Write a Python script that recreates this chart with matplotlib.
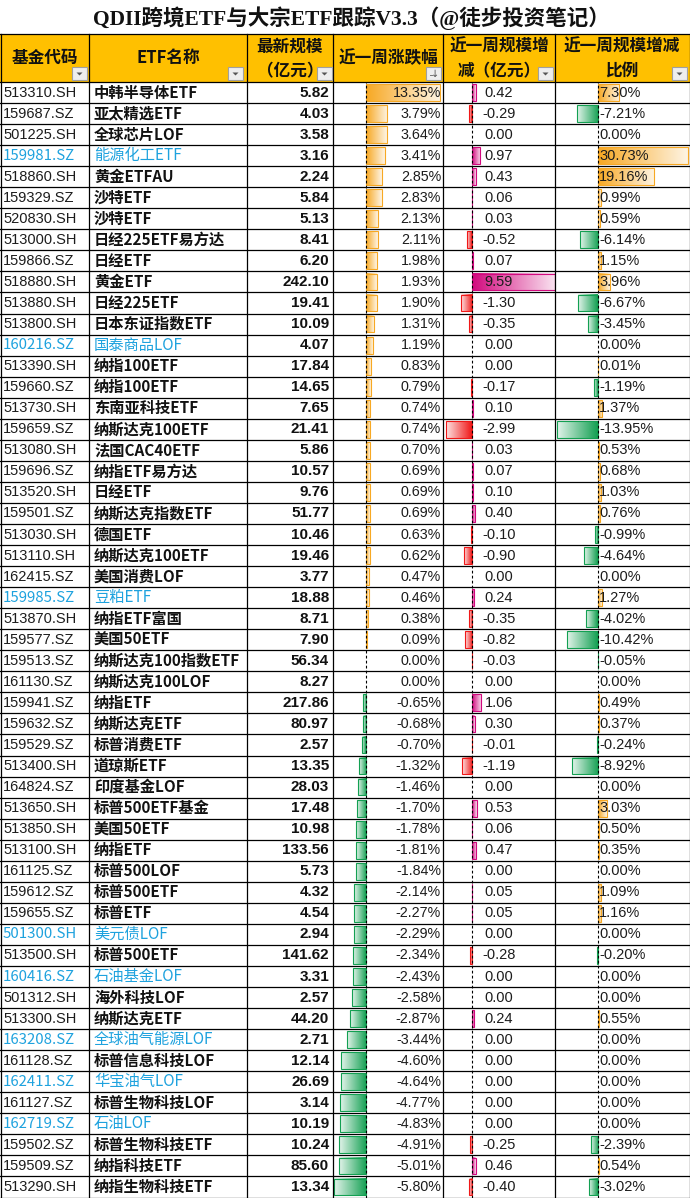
import numpy as np
import matplotlib
matplotlib.use('Agg')
import matplotlib.pyplot as plt
from matplotlib.patches import Rectangle, Polygon
from matplotlib.colors import to_rgb

# ---------------- data ----------------
codes = ["513310.SH", "159687.SZ", "501225.SH", "159981.SZ", "518860.SH", "159329.SZ",
         "520830.SH", "513000.SH", "159866.SZ", "518880.SH", "513880.SH", "513800.SH",
         "160216.SZ", "513390.SH", "159660.SZ", "513730.SH", "159659.SZ", "513080.SH",
         "159696.SZ", "513520.SH", "159501.SZ", "513030.SH", "513110.SH", "162415.SZ",
         "159985.SZ", "513870.SH", "159577.SZ", "159513.SZ", "161130.SZ", "159941.SZ",
         "159632.SZ", "159529.SZ", "513400.SH", "164824.SZ", "513650.SH", "513850.SH",
         "513100.SH", "161125.SZ", "159612.SZ", "159655.SZ", "501300.SH", "513500.SH",
         "160416.SZ", "501312.SH", "513300.SH", "163208.SZ", "161128.SZ", "162411.SZ",
         "161127.SZ", "162719.SZ", "159502.SZ", "159509.SZ", "513290.SH"]
names = ["中韩半导体ETF", "亚太精选ETF", "全球芯片LOF", "能源化工ETF", "黄金ETFAU", "沙特ETF",
         "沙特ETF", "日经225ETF易方达", "日经ETF", "黄金ETF", "日经225ETF", "日本东证指数ETF",
         "国泰商品LOF", "纳指100ETF", "纳指100ETF", "东南亚科技ETF", "纳斯达克100ETF", "法国CAC40ETF",
         "纳指ETF易方达", "日经ETF", "纳斯达克指数ETF", "德国ETF", "纳斯达克100ETF", "美国消费LOF",
         "豆粕ETF", "纳指ETF富国", "美国50ETF", "纳斯达克100指数ETF", "纳斯达克100LOF", "纳指ETF",
         "纳斯达克ETF", "标普消费ETF", "道琼斯ETF", "印度基金LOF", "标普500ETF基金", "美国50ETF",
         "纳指ETF", "标普500LOF", "标普500ETF", "标普ETF", "美元债LOF", "标普500ETF",
         "石油基金LOF", "海外科技LOF", "纳斯达克ETF", "全球油气能源LOF", "标普信息科技LOF", "华宝油气LOF",
         "标普生物科技LOF", "石油LOF", "标普生物科技ETF", "纳指科技ETF", "纳指生物科技ETF"]
aum = [5.82, 4.03, 3.58, 3.16, 2.24, 5.84, 5.13, 8.41, 6.20, 242.10, 19.41, 10.09,
       4.07, 17.84, 14.65, 7.65, 21.41, 5.86, 10.57, 9.76, 51.77, 10.46, 19.46, 3.77,
       18.88, 8.71, 7.90, 56.34, 8.27, 217.86, 80.97, 2.57, 13.35, 28.03, 17.48, 10.98,
       133.56, 5.73, 4.32, 4.54, 2.94, 141.62, 3.31, 2.57, 44.20, 2.71, 12.14, 26.69,
       3.14, 10.19, 10.24, 85.60, 13.34]
week_ret = [13.35, 3.79, 3.64, 3.41, 2.85, 2.83, 2.13, 2.11, 1.98, 1.93, 1.90, 1.31,
            1.19, 0.83, 0.79, 0.74, 0.74, 0.70, 0.69, 0.69, 0.69, 0.63, 0.62, 0.47,
            0.46, 0.38, 0.09, 0.00, 0.00, -0.65, -0.68, -0.70, -1.32, -1.46, -1.70, -1.78,
            -1.81, -1.84, -2.14, -2.27, -2.29, -2.34, -2.43, -2.58, -2.87, -3.44, -4.60, -4.64,
            -4.77, -4.83, -4.91, -5.01, -5.80]
flow = [0.42, -0.29, 0.00, 0.97, 0.43, 0.06, 0.03, -0.52, 0.07, 9.59, -1.30, -0.35,
        0.00, 0.00, -0.17, 0.10, -2.99, 0.03, 0.07, 0.10, 0.40, -0.10, -0.90, 0.00,
        0.24, -0.35, -0.82, -0.03, 0.00, 1.06, 0.30, -0.01, -1.19, 0.00, 0.53, 0.06,
        0.47, 0.00, 0.05, 0.05, 0.00, -0.28, 0.00, 0.00, 0.24, 0.00, 0.00, 0.00,
        0.00, 0.00, -0.25, 0.46, -0.40]
flow_pct = [7.30, -7.21, 0.00, 30.73, 19.16, 0.99, 0.59, -6.14, 1.15, 3.96, -6.67, -3.45,
            0.00, 0.01, -1.19, 1.37, -13.95, 0.53, 0.68, 1.03, 0.76, -0.99, -4.64, 0.00,
            1.27, -4.02, -10.42, -0.05, 0.00, 0.49, 0.37, -0.24, -8.92, 0.00, 3.03, 0.50,
            0.35, 0.00, 1.09, 1.16, 0.00, -0.20, 0.00, 0.00, 0.55, 0.00, 0.00, 0.00,
            0.00, 0.00, -2.39, 0.54, -3.02]
commodity_rows = ["159981.SZ", "160216.SZ", "159985.SZ", "501300.SH", "160416.SZ",
                  "163208.SZ", "162411.SZ", "162719.SZ"]

title = "QDII跨境ETF与大宗ETF跟踪V3.3（@徒步投资笔记）"
header_lines = [["基金代码"], ["ETF名称"], ["最新规模", "（亿元）"], ["近一周涨跌幅"],
                ["近一周规模增", "减（亿元）"], ["近一周规模增减", "比例"]]

# ---------------- layout ----------------
W, H = 690, 1198
fig = plt.figure(figsize=(W / 100, H / 100), dpi=100)
ax = fig.add_axes([0, 0, 1, 1])
ax.set_xlim(0, W)
ax.set_ylim(H, 0)
ax.axis('off')
ax.set_zorder(3)
ax.patch.set_visible(False)

CJK = ['Noto Sans CJK SC', 'DejaVu Sans']
col_edges = [0.5, 89, 247, 333, 443, 555, 689.5]
title_h = 34
hdr_bot = 82
bot = H - 0.5
n = len(codes)
row_h = (bot - hdr_bot) / n
text_col = '#1c1c1c'
blue = '#1EA2DE'

# title
ax.text(351, 18, title, ha='center', va='center', fontsize=15.5, fontweight='bold',
        family=['Liberation Serif', 'Noto Sans CJK SC'], color='#111111')

# header
ax.add_patch(Rectangle((0, title_h), W, hdr_bot - title_h, facecolor='#FFC000',
                       edgecolor='none', zorder=0))
hdr_cx = [45, 168, 290, 388, 499, 622]
for k, lines in enumerate(header_lines):
    if len(lines) == 1:
        ys = [58]
    else:
        ys = [47, 71]
    for ln, yy in zip(lines, ys):
        ax.text(hdr_cx[k], yy, ln, ha='center', va='center', fontsize=12,
                fontweight='bold', family=CJK, color='#111111')

# filter buttons
btn_x = [72, 228, 317, 426, 538, 672]
for k, bx in enumerate(btn_x):
    ax.add_patch(Rectangle((bx, 67), 15, 13, facecolor='#EEEEEE', edgecolor='#A0A0A0',
                           lw=0.8, zorder=4))
    cx = bx + 7.5
    if k == 3:
        ax.text(cx + 1.5, 74, '↓', ha='center', va='center', fontsize=7, color='#555555',
                family='DejaVu Sans', zorder=5)
        ax.plot([cx - 4, cx - 2], [75, 75], color='#777777', lw=0.7, zorder=5)
    else:
        ax.add_patch(Polygon([[cx - 3, 72.5], [cx + 3, 72.5], [cx, 75.5]], closed=True,
                             facecolor='#555555', edgecolor='none', zorder=5))

# grid
ax.plot([0, W], [title_h, title_h], color='black', lw=0.9)
for i in range(n + 1):
    y = hdr_bot + i * row_h
    ax.plot([0, W], [y, y], color='black', lw=0.9)
for x in col_edges:
    ax.plot([x, x], [title_h, bot], color='black', lw=0.9)

# cell texts
for i in range(n):
    yc = hdr_bot + (i + 0.5) * row_h
    if codes[i] in commodity_rows:
        ax.text(3, yc, codes[i], ha='left', va='center', fontsize=10.8, color=blue,
                family=CJK, fontweight='medium')
        ax.text(94, yc, names[i], ha='left', va='center', fontsize=11, color=blue,
                family=CJK, fontweight='medium')
    else:
        ax.text(3, yc, codes[i], ha='left', va='center', fontsize=10.5, color=text_col,
                family='Liberation Sans')
        ax.text(94, yc, names[i], ha='left', va='center', fontsize=11, color='#111111',
                family=CJK, fontweight='bold')
    ax.text(329, yc, f"{aum[i]:.2f}", ha='right', va='center', fontsize=11,
            fontweight='bold', color='#111111', family='Liberation Sans')
    ax.text(441, yc, f"{week_ret[i]:.2f}%", ha='right', va='center', fontsize=10.3,
            color=text_col, family='Liberation Sans')
    ax.text(499, yc, f"{flow[i]:.2f}", ha='center', va='center', fontsize=10.5,
            color=text_col, family='Liberation Sans')
    ax.text(599, yc, f"{flow_pct[i]:.2f}%", ha='left', va='center', fontsize=10.5,
            color=text_col, family='Liberation Sans')


# ---------------- data bars ----------------
def bar_axes(k, xlim):
    x0, x1 = col_edges[k], col_edges[k + 1]
    bax = fig.add_axes([x0 / W, (H - bot) / H, (x1 - x0) / W, (bot - hdr_bot) / H])
    bax.set_zorder(1)
    bax.axis('off')
    bax.set_xlim(*xlim)
    bax.set_ylim(n, 0)
    return bax


def grad_bar(bax, i, v, pos_col, neg_col):
    if v == 0:
        return
    col = np.array(to_rgb(pos_col if v > 0 else neg_col))
    t = np.linspace(0, 1, 80)[:, None]
    arr = col * (1 - 0.88 * t) + np.ones(3) * 0.88 * t
    arr = arr[None, :, :]
    if v < 0:
        arr = arr[:, ::-1, :]
    left, right = (0, v) if v > 0 else (v, 0)
    top, bottom_ = i + 0.1, i + 0.9
    bax.imshow(arr, extent=[left, right, bottom_, top], aspect='auto',
               interpolation='bilinear', zorder=2)
    bax.add_patch(Rectangle((left, top), right - left, bottom_ - top, fill=False,
                            edgecolor=col, lw=0.8, zorder=3))


orange = '#F7A823'
green = '#13A052'
magenta = '#D2097E'
red = '#F01818'

lims = {3: (-6.0, 13.8), 4: (-3.35, 9.6), 5: (-14.6, 31.2)}
bax4 = bar_axes(3, lims[3])
for i, v in enumerate(week_ret):
    grad_bar(bax4, i, v, orange, green)
bax5 = bar_axes(4, lims[4])
for i, v in enumerate(flow):
    grad_bar(bax5, i, v, magenta, red)
bax6 = bar_axes(5, lims[5])
for i, v in enumerate(flow_pct):
    grad_bar(bax6, i, v, orange, green)
for bax, k in ((bax4, 3), (bax5, 4), (bax6, 5)):
    bax.axvline(0, color='black', lw=0.8, ls=(0, (2.5, 2)), zorder=5)
    bax.set_xlim(*lims[k])
    bax.set_ylim(n, 0)

fig.savefig('out.png', dpi=100)
